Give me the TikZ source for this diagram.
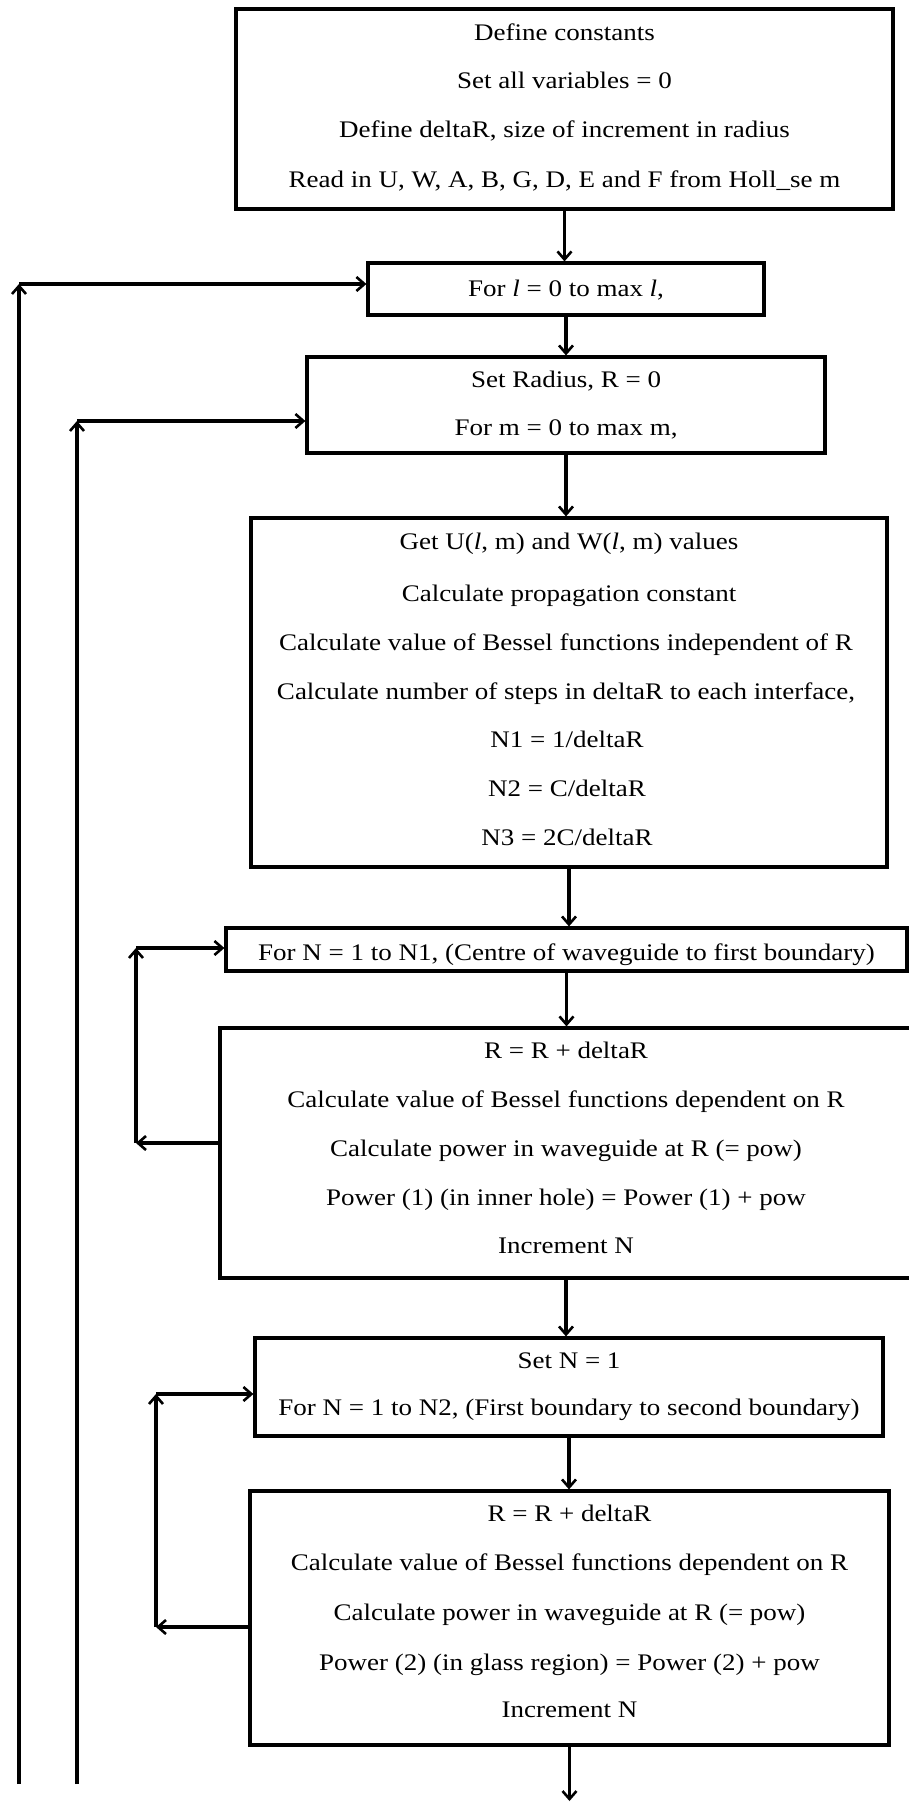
\documentclass[tikz,border=0pt]{standalone}
\usepackage{fontspec}
\setmainfont{Liberation Serif}
\usetikzlibrary{arrows.meta}
\newcommand{\sqz}[1]{\scalebox{1}[0.88]{#1}}
\begin{document}
\begin{tikzpicture}[x=1pt,y=-1pt,
  box/.style={draw=black,line width=3.2pt,rectangle,inner sep=0pt},
  txt/.style={anchor=base,inner sep=0pt,font=\fontsize{27}{30}\selectfont},
  arr/.style={line width=3.2pt,-{Straight Barb[length=8pt,width=14pt,line width=2.6pt]}},
  ln/.style={line width=3.2pt}]
\useasboundingbox[fill=white] (0,0) rectangle (908,1805);
% boxes
\node[box,minimum width=657pt,minimum height=200pt] (A) at (564.5,109) {};
\node[box,minimum width=396pt,minimum height=52pt] (Fl) at (566,289) {};
\node[box,minimum width=518pt,minimum height=96pt] (SR) at (566,405) {};
\node[box,minimum width=636pt,minimum height=349pt] (GU) at (569,692.5) {};
\node[box,minimum width=681pt,minimum height=43pt] (FN) at (566.5,949.5) {};
\node[box,minimum width=692pt,minimum height=250pt] (R1) at (566,1153) {};
\node[box,minimum width=628pt,minimum height=98pt] (SN) at (569,1387) {};
\node[box,minimum width=639pt,minimum height=254pt] (R2) at (569.5,1618) {};
% texts
\node[txt] (a1) at (564.5,40) {\sqz{Define constants}};
\node[txt] (a2) at (564.5,88) {\sqz{Set all variables = 0}};
\node[txt] (a3) at (564.5,137) {\sqz{Define deltaR, size of increment in radius}};
\node[txt] (a4) at (564.5,187) {\sqz{Read in U, W, A, B, G, D, E and F from Holl\_se m}};
\node[txt] (f1) at (566,296) {\sqz{For \textit{l} = 0 to max \textit{l},}};
\node[txt] (s1) at (566,387) {\sqz{Set Radius, R = 0}};
\node[txt] (s2) at (566,435) {\sqz{For m = 0 to max m,}};
\node[txt] (g1) at (569,549) {\sqz{Get U(\textit{l}, m) and W(\textit{l}, m) values}};
\node[txt] (g2) at (569,601) {\sqz{Calculate propagation constant}};
\node[txt] (g3) at (566,650) {\sqz{Calculate value of Bessel functions independent of R}};
\node[txt] (g4) at (566,699) {\sqz{Calculate number of steps in deltaR to each interface,}};
\node[txt] (g5) at (567,747) {\sqz{N1 = 1/deltaR}};
\node[txt] (g6) at (567,796) {\sqz{N2 = C/deltaR}};
\node[txt] (g7) at (567,845) {\sqz{N3 = 2C/deltaR}};
\node[txt] (n1) at (566.5,960) {\sqz{For N = 1 to N1, (Centre of waveguide to first boundary)}};
\node[txt] (r11) at (566,1058) {\sqz{R = R + deltaR}};
\node[txt] (r12) at (566,1107) {\sqz{Calculate value of Bessel functions dependent on R}};
\node[txt] (r13) at (566,1156) {\sqz{Calculate power in waveguide at R (= pow)}};
\node[txt] (r14) at (566,1205) {\sqz{Power (1) (in inner hole) = Power (1) + pow}};
\node[txt] (r15) at (566,1253) {\sqz{Increment N}};
\node[txt] (sn1) at (569,1368) {\sqz{Set N = 1}};
\node[txt] (sn2) at (569,1415) {\sqz{For N = 1 to N2, (First boundary to second boundary)}};
\node[txt] (r21) at (569.5,1521) {\sqz{R = R + deltaR}};
\node[txt] (r22) at (569.5,1570) {\sqz{Calculate value of Bessel functions dependent on R}};
\node[txt] (r23) at (569.5,1620) {\sqz{Calculate power in waveguide at R (= pow)}};
\node[txt] (r24) at (569.5,1670) {\sqz{Power (2) (in glass region) = Power (2) + pow}};
\node[txt] (r25) at (569.5,1717) {\sqz{Increment N}};
% main flow
\draw[arr] (A.south) -- (A.south |- Fl.north);
\draw[arr] (Fl.south) -- (Fl.south |- SR.north);
\draw[arr] (SR.south) -- (SR.south |- GU.north);
\draw[arr] (GU.south) -- (GU.south |- FN.north);
\draw[arr] (FN.south) -- (FN.south |- R1.north);
\draw[arr] (R1.south) -- (R1.south |- SN.north);
\draw[arr] (SN.south) -- (SN.south |- R2.north);
\coordinate (fin) at (570,1801);
\draw[arr] (R2.south) -- (R2.south |- fin);
% outer loops
\coordinate (o1b) at (19,1784);
\coordinate (o1t) at (19,284);
\draw[arr] (o1b) -- (o1t);
\draw[arr] (o1t) -- (o1t -| Fl.west);
\coordinate (o2b) at (77,1784);
\coordinate (o2t) at (77,421);
\draw[arr] (o2b) -- (o2t);
\draw[arr] (o2t) -- (o2t -| SR.west);
% inner loop 1
\coordinate (l1b) at (136,1143);
\coordinate (l1t) at (136,948);
\draw[arr] (l1b -| R1.west) -- (l1b);
\draw[arr] (l1b) -- (l1t);
\draw[arr] (l1t) -- (l1t -| FN.west);
% inner loop 2
\coordinate (l2b) at (156,1627);
\coordinate (l2t) at (156,1394);
\draw[arr] (l2b -| R2.west) -- (l2b);
\draw[arr] (l2b) -- (l2t);
\draw[arr] (l2t) -- (l2t -| SN.west);
\end{tikzpicture}
\end{document}
